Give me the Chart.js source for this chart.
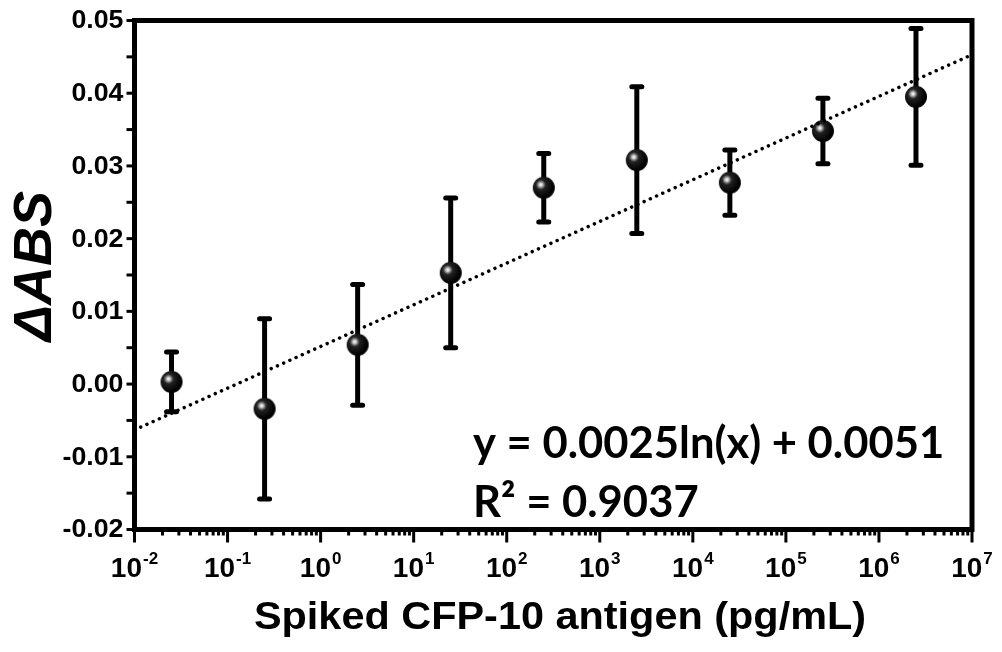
<!DOCTYPE html>
<html>
<head>
<meta charset="utf-8">
<script src="https://cdn.jsdelivr.net/npm/chart.js@4.4.1/dist/chart.umd.min.js"></script>
<style>
html, body { margin: 0; padding: 0; background: #fff; }
</style>
</head>
<body>
<canvas id="chart" width="1002" height="652"></canvas>
<script>
// DATA
const xValues = [0.025, 0.25, 2.5, 25, 250, 2500, 25000, 250000, 2500000];
const yValues = [0.0003, -0.0034, 0.0054, 0.0153, 0.0270, 0.0308, 0.0277, 0.0348, 0.0395];
const yErrors = [0.0041, 0.0124, 0.0083, 0.0103, 0.0047, 0.0101, 0.0045, 0.0045, 0.0094];
// dotted log fit, its two ends at the frame
const fitX = [0.01, 10000000];
const fitY = [-0.0063, 0.0453];
// ticks
const xTickExponents = [-2, -1, 0, 1, 2, 3, 4, 5, 6, 7];
const xMinorMultipliers = [2, 3, 4, 5, 6, 7, 8, 9];
const yTickValues = [-0.02, -0.01, 0.00, 0.01, 0.02, 0.03, 0.04, 0.05];
const yTickLabels = ['-0.02', '-0.01', '0.00', '0.01', '0.02', '0.03', '0.04', '0.05'];
const xTitle = 'Spiked CFP-10 antigen (pg/mL)';
const yTitle = 'ΔABS';
const eqLines = ['y = 0.0025ln(x) + 0.0051', 'R² = 0.9037'];

const AXIS_FONT = '"Liberation Sans", Arial, sans-serif';

// shiny black sphere marker
function makeSphere(r) {
    const c = document.createElement('canvas');
    c.width = c.height = r * 2 + 2;
    const g = c.getContext('2d');
    const cx = r + 1, cy = r + 1;
    const grad = g.createRadialGradient(cx - 3, cy - 3, 0, cx - 3, cy - 3, r + 2);
    grad.addColorStop(0, '#ffffff');
    grad.addColorStop(0.1, '#dddddd');
    grad.addColorStop(0.22, '#888888');
    grad.addColorStop(0.38, '#222222');
    grad.addColorStop(1, '#000000');
    g.fillStyle = grad;
    g.beginPath();
    g.arc(cx, cy, r, 0, Math.PI * 2);
    g.fill();
    return c;
}
const sphere = makeSphere(11);

// text helper, with a horizontal stretch like the original export
function drawText(ctx, str, x, y, font, sx, align) {
    ctx.save();
    ctx.font = font;
    const w = ctx.measureText(str).width * sx;
    let left = x;
    if (align === 'center') left = x - w / 2;
    else if (align === 'right') left = x - w;
    ctx.translate(left, y);
    ctx.scale(sx, 1);
    ctx.textAlign = 'left';
    ctx.fillText(str, 0, 0);
    ctx.restore();
    return w;
}

const errorBars = {
    id: 'errorBars',
    beforeDatasetsDraw(chart) {
        const { ctx, scales: { x, y } } = chart;
        ctx.save();
        ctx.strokeStyle = '#000';
        xValues.forEach((xv, i) => {
            const px = x.getPixelForValue(xv);
            const top = y.getPixelForValue(yValues[i] + yErrors[i]);
            const bot = y.getPixelForValue(yValues[i] - yErrors[i]);
            ctx.lineWidth = 5;
            ctx.lineCap = 'butt';
            ctx.beginPath();
            ctx.moveTo(px, top);
            ctx.lineTo(px, bot);
            ctx.stroke();
            ctx.lineCap = 'round';
            ctx.beginPath();
            ctx.moveTo(px - 5, top);
            ctx.lineTo(px + 5, top);
            ctx.moveTo(px - 5, bot);
            ctx.lineTo(px + 5, bot);
            ctx.stroke();
        });
        ctx.restore();
    }
};

const frameAndLabels = {
    id: 'frameAndLabels',
    afterDraw(chart) {
        const { ctx, chartArea: a, scales: { x, y } } = chart;
        ctx.save();
        ctx.strokeStyle = '#000';
        ctx.fillStyle = '#000';

        // frame
        ctx.lineWidth = 5;
        ctx.lineJoin = 'miter';
        ctx.strokeRect(a.left, a.top, a.right - a.left, a.bottom - a.top);

        // y ticks (major + half steps)
        ctx.lineWidth = 3;
        ctx.lineCap = 'butt';
        y.ticks.forEach(t => {
            const py = y.getPixelForValue(t.value);
            ctx.beginPath();
            ctx.moveTo(a.left - 2, py);
            ctx.lineTo(a.left - 8, py);
            ctx.stroke();
        });

        // x ticks
        x.ticks.forEach(t => {
            const px = x.getPixelForValue(t.value);
            const major = Math.abs(Math.log10(t.value) - Math.round(Math.log10(t.value))) < 1e-9;
            ctx.beginPath();
            ctx.moveTo(px, a.bottom + 2);
            ctx.lineTo(px, a.bottom + (major ? 13 : 6));
            ctx.stroke();
        });

        // y tick labels
        ctx.textBaseline = 'middle';
        yTickValues.forEach((v, i) => {
            drawText(ctx, yTickLabels[i], a.left - 11, y.getPixelForValue(v) + 1, 'bold 25px ' + AXIS_FONT, 1.07, 'right');
        });

        // x tick labels: 10 with superscript exponent
        ctx.textBaseline = 'alphabetic';
        xTickExponents.forEach(e => {
            const px = x.getPixelForValue(Math.pow(10, e));
            ctx.font = 'bold 28px ' + AXIS_FONT;
            const wBase = ctx.measureText('10').width;
            ctx.font = 'bold 17px ' + AXIS_FONT;
            const wExp = ctx.measureText(String(e)).width;
            const left = px - (wBase + wExp + 1) / 2;
            drawText(ctx, '10', left, 577, 'bold 28px ' + AXIS_FONT, 1, 'left');
            drawText(ctx, String(e), left + wBase + 1, 564, 'bold 17px ' + AXIS_FONT, 1, 'left');
        });

        // axis titles
        drawText(ctx, xTitle, 560, 629, 'bold 38px ' + AXIS_FONT, 1.09, 'center');
        ctx.save();
        ctx.translate(51, 266);
        ctx.rotate(-Math.PI / 2);
        drawText(ctx, yTitle, 0, 0, 'italic bold 54px ' + AXIS_FONT, 1, 'center');
        ctx.restore();

        // fit equation
        drawText(ctx, eqLines[0], 473, 458, 'bold 44px Lato, "Open Sans", sans-serif', 0.99, 'left');
        drawText(ctx, eqLines[1], 473, 517, 'bold 44px Lato, "Open Sans", sans-serif', 0.99, 'left');

        ctx.restore();
    }
};

new Chart(document.getElementById('chart'), {
    type: 'scatter',
    data: {
        datasets: [{
            type: 'line',
            data: fitX.map((v, i) => ({ x: v, y: fitY[i] })),
            borderColor: '#000',
            borderWidth: 3.5,
            borderDash: [0.01, 6.8],
            borderCapStyle: 'round',
            pointRadius: 0,
            fill: false
        }, {
            data: xValues.map((v, i) => ({ x: v, y: yValues[i] })),
            pointStyle: sphere,
            pointRadius: 11,
            showLine: false
        }]
    },
    options: {
        responsive: false,
        animation: false,
        layout: { padding: { left: 0, top: 20.5, right: 30, bottom: 0 } },
        plugins: { legend: { display: false }, tooltip: { enabled: false } },
        scales: {
            x: {
                type: 'logarithmic',
                min: 0.01,
                max: 10000000,
                afterBuildTicks: (scale) => {
                    const t = [];
                    xTickExponents.forEach(e => {
                        t.push({ value: Math.pow(10, e) });
                        if (e < 7) xMinorMultipliers.forEach(m => t.push({ value: m * Math.pow(10, e) }));
                    });
                    scale.ticks = t;
                },
                afterFit: (scale) => { scale.height = 122.5; },
                grid: { display: false },
                border: { display: false },
                ticks: { display: false }
            },
            y: {
                min: -0.02,
                max: 0.05,
                ticks: { display: false, stepSize: 0.005 },
                afterFit: (scale) => { scale.width = 134.5; },
                grid: { display: false },
                border: { display: false }
            }
        }
    },
    plugins: [errorBars, frameAndLabels]
});
</script>
</body>
</html>
